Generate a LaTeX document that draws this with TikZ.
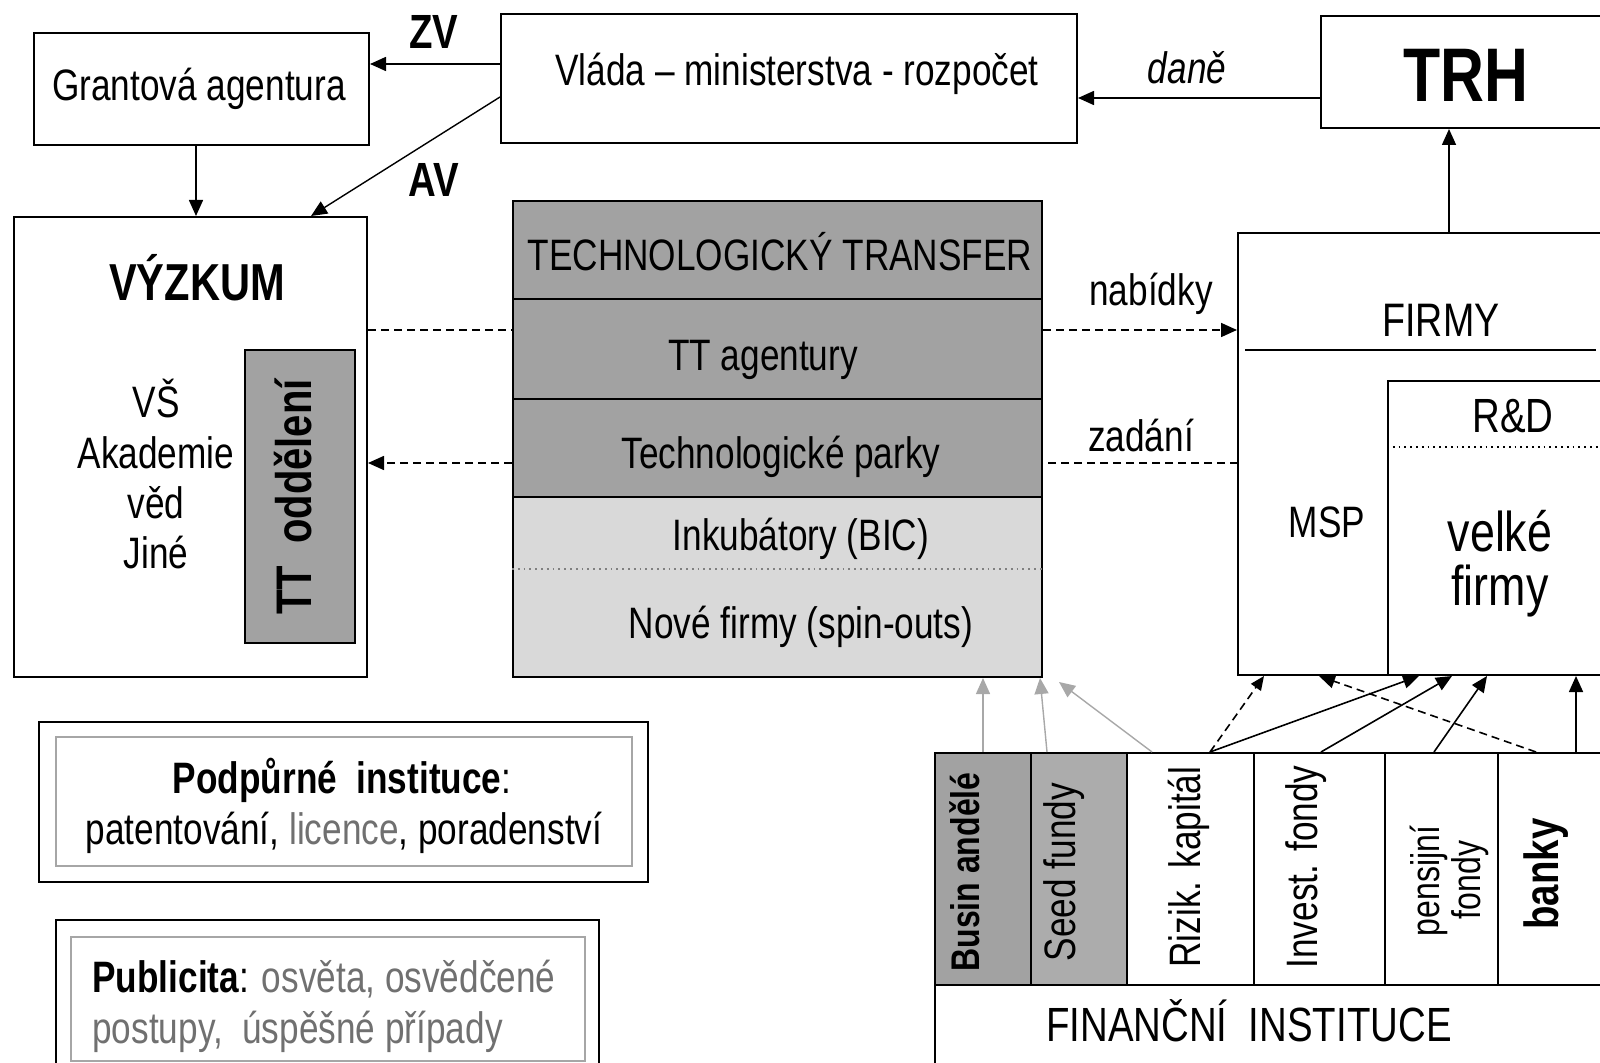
\documentclass[tikz,border=0pt]{standalone}
\usepackage{fontspec}
\setmainfont{Liberation Sans}[FakeStretch=0.8]
\usetikzlibrary{fit,arrows.meta,calc}
\definecolor{ttdark}{HTML}{A2A2A2}
\definecolor{ttlight}{HTML}{D9D9D9}
\definecolor{seedgray}{HTML}{ACACAC}
\definecolor{txtgray}{HTML}{707070}
\definecolor{arrgray}{HTML}{A8A8A8}
\newcommand\fsz[1]{\fontsize{#1}{#1}\selectfont}
\begin{document}
\begin{tikzpicture}[x=0.5pt,y=-0.5pt,
  box/.style={draw, line width=1pt, inner sep=0pt},
  thinbox/.style={draw=gray!70, line width=0.7pt, inner sep=0pt},
  txt/.style={inner sep=0pt, anchor=base, font=\fsz{22}},
  rtxt/.style={inner sep=0pt, anchor=center, rotate=90, font=\fsz{22}},
  arr/.style={-{Triangle[length=8pt,width=7pt]}, line width=0.8pt},
  garr/.style={-{Triangle[length=8pt,width=7pt]}, line width=0.7pt, draw=arrgray, fill=arrgray},
  dsh/.style={dash pattern=on 4pt off 2.5pt, line width=0.8pt},
]
\useasboundingbox (0,0) rectangle (1600,1063);
\clip (0,0) rectangle (1600,1063);

% helper coordinates
\coordinate (yZV) at (0,64);
\coordinate (yAV) at (0,97);
\coordinate (xAV) at (311,0);
\coordinate (xG) at (196,0);
\coordinate (yDN) at (0,98);
\coordinate (xT) at (1449,0);
\coordinate (yA) at (0,330);
\coordinate (yB) at (0,463);
\coordinate (yDot) at (0,569);
\coordinate (yF) at (0,350);
\coordinate (yRD) at (0,447);
\coordinate (xFl) at (1245,0);
\coordinate (xFr) at (1596,0);

% top boxes
\node[box, fit={(34,33)(369,145)}] (ga) {};
\node[txt] (tga) at (199,101) {Grantová agentura};
\node[box, fit={(501,14)(1077,143)}] (vlada) {};
\node[txt] (tvlada) at (797,86) {Vláda – ministerstva - rozpočet};
\node[box, fit={(1321,16)(1640,128)}] (trh) {};
\node[txt, font=\bfseries\fsz{38}] (ttrh) at (1466,102) {TRH};

\node[txt, font=\bfseries\fsz{24}] (lzv) at (434,49) {ZV};
\node[txt, font=\bfseries\fsz{24}] (lav) at (434,197) {AV};
\node[txt, font=\itshape\fsz{22}] (ldane) at (1187,84) {daně};

% VYZKUM
\node[box, fit={(14,217)(367,677)}] (vyz) {};
\node[txt, font=\bfseries\fsz{26}] (tvyz) at (197,301) {VÝZKUM};
\node[txt] (tvs) at (156,418) {VŠ};
\node[txt] (tak) at (156,469) {Akademie};
\node[txt] (tved) at (156,518) {věd};
\node[txt] (tjine) at (156,568) {Jiné};
\node[box, fill=ttdark, fit={(245,350)(355,643)}] (ttodd) {};
\node[rtxt, font=\bfseries\fsz{25}] (tttodd) at (293,497) {TT\ \ oddělení};

% dashed connectors (drawn before TT block)
\draw[dsh] (vyz.east |- yA) -- (513,330) coordinate (ttBw);
\draw[dsh] (1238,463) coordinate (firmyWb) -- (1042,463) coordinate (ttCe);

% TT block
\node[box, fill=ttdark, fit={(513,201)(1042,299)}] (ttA) {};
\node[box, fill=ttdark, fit={(513,299)(1042,399)}] (ttB) {};
\node[box, fill=ttdark, fit={(513,399)(1042,497)}] (ttC) {};
\node[box, fill=ttlight, fit={(513,497)(1042,677)}] (ttD) {};
\draw[dotted, draw=gray, line width=0.9pt] (ttD.west |- yDot) -- (ttD.east |- yDot);
\node[txt] (tttA) at (780,271) {TECHNOLOGICKÝ TRANSFER};
\node[txt] (tttB) at (763,371) {TT agentury};
\node[txt] (tttC) at (781,469) {Technologické parky};
\node[txt] (tttD1) at (801,551) {Inkubátory (BIC)};
\node[txt] (tttD2) at (801,638) {Nové firmy (spin-outs)};

% FIRMY
\node[box, fit={(1238,233)(1640,675)}] (firmy) {};
\draw[line width=1pt] (xFl |- yF) -- (xFr |- yF);
\node[txt, font=\fsz{23.5}] (tfirmy) at (1441,337) {FIRMY};
\node[box, fit={(1388,381)(1640,675)}] (rd) {};
\draw[dotted, line width=0.9pt] (rd.west |- yRD) -- (rd.east |- yRD);
\node[txt, font=\fsz{24}] (trd) at (1513,433) {R\&D};
\node[txt] (tmsp) at (1327,538) {MSP};
\node[txt, font=\fsz{28}] (tvel1) at (1500,552) {velké};
\node[txt, font=\fsz{28}] (tvel2) at (1500,605) {firmy};

\node[txt] (lnab) at (1151,306) {nabídky};
\node[txt] (lzad) at (1141,452) {zadání};

% top connectors
\draw[arr] (vlada.west |- yZV) -- (ga.east |- yZV);
\draw[arr, line width=0.7pt] (vlada.west |- yAV) -- (vyz.north -| xAV);
\draw[arr] (ga.south -| xG) -- (vyz.north -| xG);
\draw[arr] (trh.west |- yDN) -- (vlada.east |- yDN);
\draw[arr] (firmy.north -| xT) -- (trh.south -| xT);

% dashed with arrows
\draw[dsh, -{Triangle[length=8pt,width=7pt]}] (ttB.east |- yA) -- (firmy.west |- yA);
\draw[dsh, -{Triangle[length=8pt,width=7pt]}] (ttC.west |- yB) -- (vyz.east |- yB);

% financial institutions
\node[box, fill=ttdark, fit={(935,753)(1031,985)}] (busin) {};
\node[box, fill=seedgray, fit={(1031,753)(1127,985)}] (seed) {};
\node[box, fit={(1127,753)(1254,985)}] (rizik) {};
\node[box, fit={(1254,753)(1385,985)}] (invest) {};
\node[box, fit={(1385,753)(1498,985)}] (pens) {};
\node[box, fit={(1498,753)(1640,985)}] (banky) {};
\node[box, fit={(935,985)(1640,1090)}] (fin) {};
\node[rtxt, font=\bfseries\fsz{20}] (tbusin) at (965,872) {Busin andělé};
\node[rtxt] (tseed) at (1064,872) {Seed fundy};
\node[rtxt] (trizik) at (1189,867) {Rizik. kapitál};
\node[rtxt] (tinvest) at (1306,867) {Invest. fondy};
\node[rtxt, font=\fsz{20}] (tpens1) at (1429,881) {pensijní};
\node[rtxt, font=\fsz{20}] (tpens2) at (1470,880) {fondy};
\node[rtxt, font=\bfseries\fsz{24}] (tbanky) at (1546,874) {banky};
\node[txt, font=\fsz{24}] (tfin) at (1249,1041) {FINANČNÍ\ \ INSTITUCE};

% arrows from financial institutions
\draw[garr] (busin.north) -- (busin.north |- ttD.south);
\draw[garr] ($(seed.north west)+(17,0)$) -- ($(ttD.south east)+(-3,0)$);
\draw[garr] ($(rizik.north west)+(26,0)$) -- ($(ttD.south east)+(16,4)$);
\draw[dsh, -{Triangle[length=7pt,width=6pt]}] ($(rizik.north west)+(84,0)$) -- ($(firmy.south west)+(27,0)$);
\draw[arr] ($(rizik.north west)+(84,0)$) -- ($(firmy.south west)+(182,0)$);
\draw[arr] ($(invest.north west)+(68,0)$) -- ($(firmy.south west)+(215,0)$);
\draw[arr] ($(pens.north west)+(50,0)$) -- ($(firmy.south west)+(250,0)$);
\draw[dsh, -{Triangle[length=8pt,width=7pt]}] ($(banky.north west)+(39,0)$) -- ($(firmy.south west)+(82,0)$);
\draw[arr] ($(banky.north west)+(79,0)$) -- ($(firmy.south west)+(339,0)$);

% support boxes
\node[box, fit={(39,722)(648,882)}] (podp) {};
\node[thinbox, fit={(56,737)(632,866)}] (podpin) {};
\node[txt] (tpodp1) at (342,793) {\bfseries Podpůrné\ \ instituce\mdseries :};
\node[txt] (tpodp2) at (344,844) {patentování, \textcolor{txtgray}{licence}, poradenství};
\node[box, fit={(56,920)(599,1090)}] (publ) {};
\node[thinbox, fit={(71,937)(585,1061)}] (publin) {};
\node[txt, anchor=base west] (tpubl1) at (92,992) {\bfseries Publicita\mdseries : \textcolor{txtgray}{osvěta, osvědčené}};
\node[txt, anchor=base west, text=txtgray] (tpubl2) at (92,1043) {postupy,\ \ úspěšné případy};
\end{tikzpicture}
\end{document}
